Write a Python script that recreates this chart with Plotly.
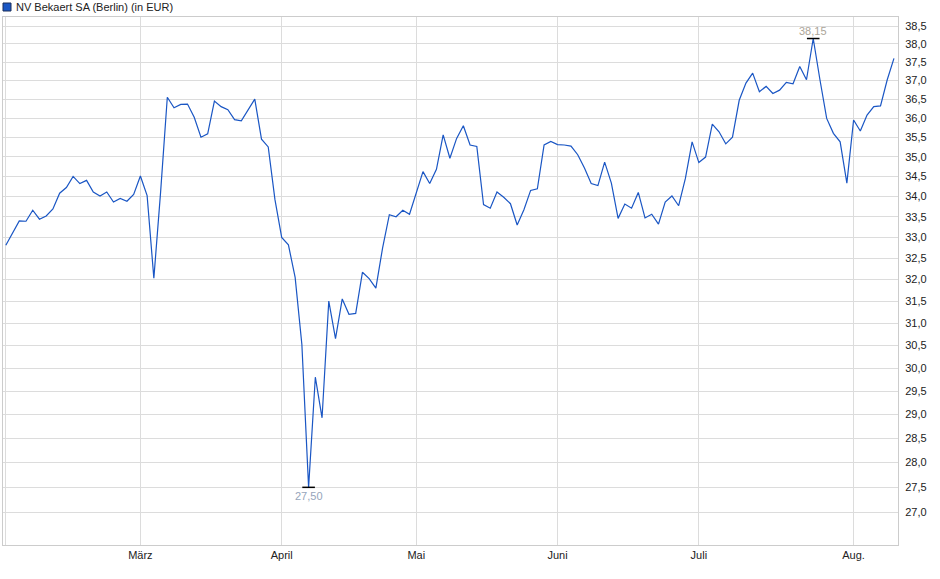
import math
import plotly.graph_objects as go

# daily closes (Berlin), Feb 3 .. Aug 11, one value per trading day
prices = [
    32.81, 33.12, 33.40, 33.39, 33.66, 33.44, 33.52, 33.69, 34.08, 34.22,
    34.50, 34.32, 34.40, 34.11, 34.01, 34.11, 33.86, 33.95, 33.88, 34.05,
    34.51, 34.02, 32.03, 34.10, 36.55, 36.27, 36.36, 36.37, 36.02, 35.50,
    35.59, 36.45, 36.30, 36.22, 35.96, 35.93, 36.22, 36.50, 35.45, 35.25,
    33.92, 33.00, 32.82, 32.05, 30.52, 27.50, 29.80, 28.93, 31.50, 30.65,
    31.55, 31.20, 31.22, 32.17, 32.02, 31.80, 32.75, 33.55, 33.50, 33.66,
    33.56, 34.08, 34.62, 34.32, 34.68, 35.56, 34.96, 35.47, 35.80, 35.30,
    35.26, 33.80, 33.71, 34.11, 33.98, 33.82, 33.30, 33.67, 34.15, 34.19,
    35.30, 35.39, 35.31, 35.30, 35.27, 35.05, 34.71, 34.32, 34.27, 34.86,
    34.33, 33.46, 33.81, 33.71, 34.10, 33.47, 33.56, 33.32, 33.86, 34.01,
    33.77, 34.45, 35.38, 34.85, 34.99, 35.84, 35.64, 35.33, 35.50, 36.47,
    36.93, 37.20, 36.70, 36.84, 36.65, 36.74, 36.95, 36.91, 37.38, 37.02,
    38.15, 37.02, 35.99, 35.60, 35.38, 34.33, 35.95, 35.66, 36.08, 36.30,
    36.32, 37.02, 37.60,
]

# first trading day of each month (index into prices)
month_idx = [0, 20, 41, 61, 82, 103, 126]
month_labels = ["", "März", "April", "Mai", "Juni", "Juli", "Aug."]

y_ticks = [27.0 + 0.5 * i for i in range(24)]

series_name = "NV Bekaert SA (Berlin) (in EUR)"
line_color = "#1a56c4"
grid_color = "#dcdcdc"

days = list(range(len(prices)))
i_max = prices.index(max(prices))
i_min = prices.index(min(prices))

fig = go.Figure()
fig.add_trace(go.Scatter(
    x=days, y=prices, mode="lines",
    line=dict(color=line_color, width=1.2),
    showlegend=False, hoverinfo="skip",
))
# high / low markers
fig.add_trace(go.Scatter(
    x=[i_max, i_min], y=[prices[i_max], prices[i_min]], mode="markers",
    marker=dict(symbol="line-ew", size=9, line=dict(color="black", width=1.5)),
    showlegend=False, hoverinfo="skip",
))

# log axis -> annotation y in log10 units
fig.add_annotation(x=i_max, y=math.log10(prices[i_max]),
                   text=f"{prices[i_max]:.2f}".replace(".", ","),
                   showarrow=False, yanchor="bottom", yshift=0,
                   font=dict(size=11, color="#aba598"))
fig.add_annotation(x=i_min, y=math.log10(prices[i_min]),
                   text=f"{prices[i_min]:.2f}".replace(".", ","),
                   showarrow=False, yanchor="top", yshift=-1,
                   font=dict(size=11, color="#96a5bb"))

# legend box + title text
plot_w = 940 - 3 - 42
plot_h = 579 - 17 - 34
fig.add_shape(type="rect", xref="paper", yref="paper",
              x0=0.0, x1=8 / plot_w, y0=1 + (17 - 11) / plot_h, y1=1 + (17 - 3) / plot_h,
              fillcolor=line_color, line=dict(color="#1b2f5a", width=1))
fig.add_annotation(xref="paper", yref="paper", x=11 / plot_w, y=1 + (17 - 7) / plot_h,
                   text=series_name, showarrow=False, xanchor="left", yanchor="middle",
                   font=dict(size=11, color="#222222"))

fig.update_layout(
    width=940, height=579,
    margin=dict(l=3, r=42, t=17, b=34),
    paper_bgcolor="white", plot_bgcolor="white",
    separators=",.",
    font=dict(family="Liberation Sans, Arial, sans-serif", size=11, color="#222222"),
    xaxis=dict(
        range=[-0.42, 132.6],
        tickvals=month_idx, ticktext=month_labels,
        showgrid=True, gridcolor=grid_color, gridwidth=1,
        zeroline=False, showline=True, linecolor="#cccccc", linewidth=1, mirror=True,
        ticks="",
    ),
    yaxis=dict(
        type="log", side="right",
        range=[1.42107, 1.58831],
        tickvals=y_ticks, tickformat=".1f",
        showgrid=True, gridcolor=grid_color, gridwidth=1,
        zeroline=False, showline=True, linecolor="#cccccc", linewidth=1, mirror=True,
        ticks="", ticklabelstandoff=4,
    ),
)

fig.write_html("out.html", config={"displayModeBar": False},
               post_script="document.body.style.margin='0';")
